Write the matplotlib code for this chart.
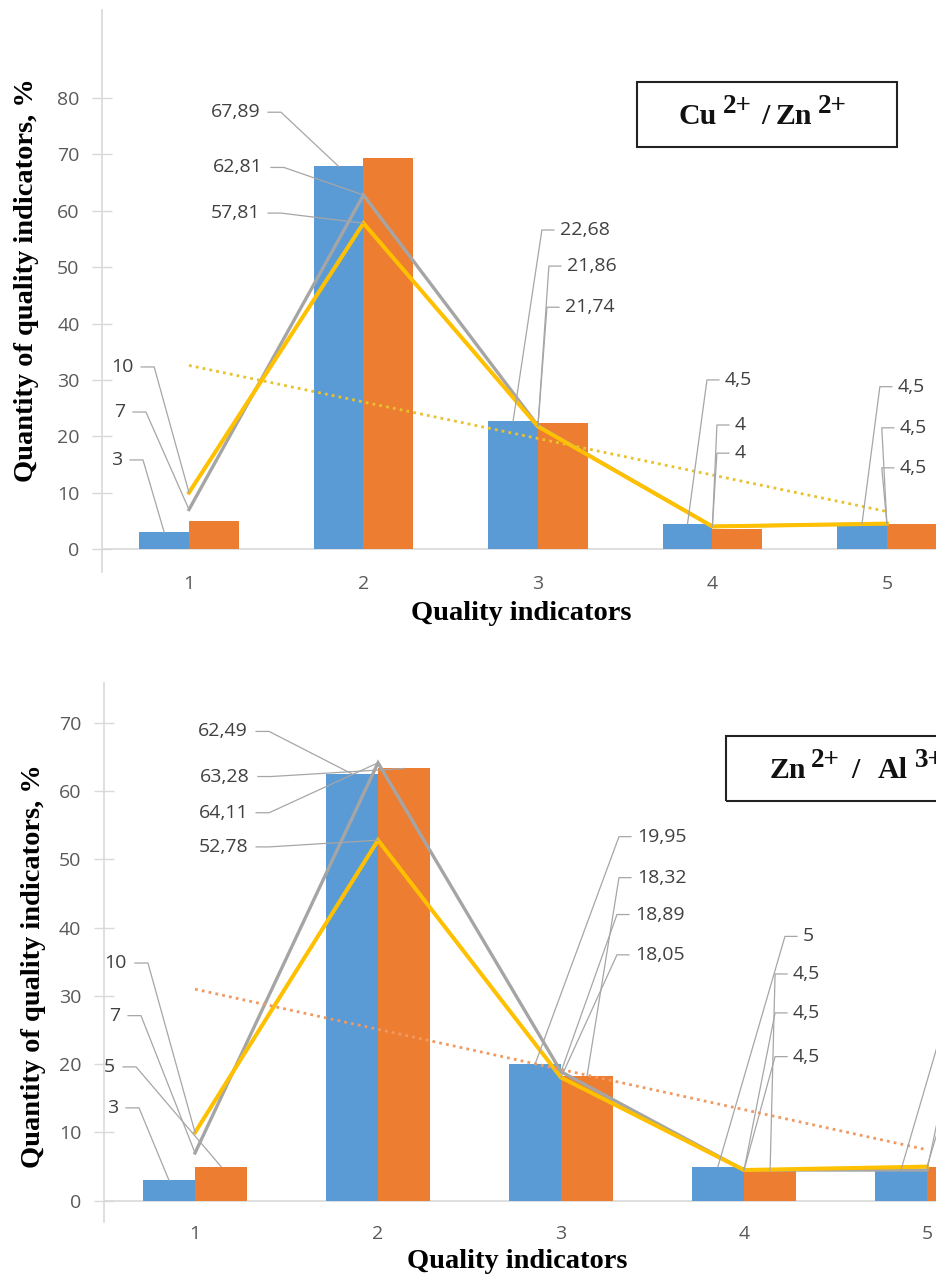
import matplotlib
matplotlib.use("Agg")
import matplotlib.pyplot as plt
from matplotlib.patches import Rectangle
import numpy as np

plt.rcParams["font.family"] = ["Open Sans", "DejaVu Sans"]

# quality indicator categories
categories = [1, 2, 3, 4, 5]

# Cu2+ / Zn2+ panel
cu_blue = [3, 67.89, 22.68, 4.5, 4.5]
cu_orange = [5, 69.3, 22.3, 3.5, 4.5]
cu_gray = [7, 62.81, 21.86, 4, 4.5]
cu_yellow = [10, 57.81, 21.74, 4, 4.5]

# Zn2+ / Al3+ panel
zn_blue = [3, 62.49, 19.95, 5, 4.5]
zn_orange = [5, 63.28, 18.32, 4.5, 5]
zn_gray = [7, 64.11, 18.89, 4.5, 4.5]
zn_yellow = [10, 52.78, 18.05, 4.5, 5]

BLUE, ORANGE, GRAY, YELLOW = "#5B9BD5", "#ED7D31", "#A5A5A5", "#FFC000"
TXT = "#595959"
LEAD = "#A6A6A6"
BAR_W = 0.285
W, H = 937, 1277

# label layout: (series, category index, text x, text y, side)
cu_label_pos = [
    ("yellow", 0, 0.68, 32.3, "L"), ("gray", 0, 0.633, 24.3, "L"), ("blue", 0, 0.616, 15.8, "L"),
    ("blue", 1, 1.407, 77.5, "L"), ("gray", 1, 1.424, 67.7, "L"), ("yellow", 1, 1.407, 59.6, "L"),
    ("blue", 2, 3.126, 56.6, "R"), ("gray", 2, 3.166, 50.2, "R"), ("yellow", 2, 3.155, 42.9, "R"),
    ("blue", 3, 4.072, 30.0, "R"), ("gray", 3, 4.129, 22.0, "R"), ("yellow", 3, 4.129, 17.0, "R"),
    ("blue", 4, 5.063, 28.8, "R"), ("gray", 4, 5.074, 21.5, "R"), ("yellow", 4, 5.074, 14.4, "R"),
]
zn_label_pos = [
    ("yellow", 0, 0.628, 34.8, "L"), ("gray", 0, 0.59, 27.1, "L"),
    ("orange", 0, 0.563, 19.6, "L"), ("blue", 0, 0.579, 13.6, "L"),
    ("blue", 1, 1.29, 68.7, "L"), ("orange", 1, 1.30, 62.1, "L"),
    ("gray", 1, 1.29, 56.8, "L"), ("yellow", 1, 1.29, 51.8, "L"),
    ("blue", 2, 3.415, 53.3, "R"), ("orange", 2, 3.415, 47.3, "R"),
    ("gray", 2, 3.404, 41.9, "R"), ("yellow", 2, 3.404, 36.0, "R"),
    ("blue", 3, 4.322, 38.7, "R"), ("orange", 3, 4.268, 33.2, "R"),
    ("gray", 3, 4.268, 27.5, "R"), ("yellow", 3, 4.268, 21.1, "R"),
    ("blue", 4, 5.33, 38.7, "R"), ("orange", 4, 5.28, 33.2, "R"),
    ("gray", 4, 5.28, 27.5, "R"), ("yellow", 4, 5.28, 21.1, "R"),
]


def fmt(v):
    return f"{v:g}".replace(".", ",")


def shift(ax, x, y, dx):
    X, Y = ax.transData.transform((x, y))
    return ax.transData.inverted().transform((X + dx, Y))[0]


def draw_panel(ax, blue, orange, gray, yellow, trend_src, trend_color,
               ylim, yticks, label_pos):
    x = np.array(categories, dtype=float)
    ax.bar(x - BAR_W / 2, blue, BAR_W, color=BLUE, zorder=2)
    ax.bar(x + BAR_W / 2, orange, BAR_W, color=ORANGE, zorder=2)
    ax.plot(x, gray, color=GRAY, lw=2.4, zorder=3, solid_joinstyle="miter")
    ax.plot(x, yellow, color=YELLOW, lw=2.9, zorder=4, solid_joinstyle="miter")

    # linear trend line
    k, b = np.polyfit(x, trend_src, 1)
    ax.plot(x, k * x + b, color=trend_color, lw=2.0, ls=(0, (1, 1.5)), zorder=5)

    ax.set_xlim(0.5, 5.5)
    ax.set_ylim(*ylim)
    ax.axhline(0, color="#D9D9D9", lw=1.2, zorder=1)
    for s in ["top", "right", "bottom"]:
        ax.spines[s].set_visible(False)
    ax.spines["left"].set_color("#D9D9D9")
    ax.spines["left"].set_linewidth(1.2)
    ax.set_xticks(categories)
    ax.set_yticks(yticks)
    ax.tick_params(axis="x", length=0, pad=2, labelsize=14, labelcolor=TXT)
    ax.tick_params(axis="y", direction="inout", length=14, width=1,
                   color="#D9D9D9", pad=9, labelsize=14, labelcolor=TXT)

    series = {"blue": (blue, -BAR_W / 2), "orange": (orange, BAR_W / 2),
              "gray": (gray, 0), "yellow": (yellow, 0)}
    for name, i, tx, ty, side in label_pos:
        vals, off = series[name]
        px, py = categories[i] + off, vals[i]
        if side == "L":
            s, e = shift(ax, tx, ty, 8), shift(ax, tx, ty, 21)
            ha = "right"
        else:
            s, e = shift(ax, tx, ty, -6), shift(ax, tx, ty, -18)
            ha = "left"
        ax.plot([s, e, px], [ty, ty, py], color=LEAD, lw=0.9, zorder=6,
                clip_on=False)
        # labels that fall past the right edge of the picture are cropped away
        if ax.transData.transform((tx, ty))[0] < W - 5:
            ax.text(tx, ty, fmt(vals[i]), ha=ha, va="center", fontsize=14,
                    color="#404040", zorder=7)


def ion_label(fig, x0, base, parts):
    renderer = fig.canvas.get_renderer()
    x = x0
    for txt, size, rise, gap in parts:
        t = fig.text(x / W, 1 - (base - rise) / H, txt, fontsize=size,
                     fontfamily="Liberation Serif", fontweight="bold",
                     ha="left", va="baseline", color="#111111")
        x += t.get_window_extent(renderer).width + gap


fig = plt.figure(figsize=(W / 100, H / 100), dpi=100)
ax1 = fig.add_axes([0.1086, 0.552, 0.931, 0.440])
ax2 = fig.add_axes([0.1105, 0.0431, 0.9765, 0.4221])

draw_panel(ax1, cu_blue, cu_orange, cu_gray, cu_yellow, cu_yellow, "#E8C22A",
           (-4.1, 95.6), range(0, 90, 10), cu_label_pos)
draw_panel(ax2, zn_blue, zn_orange, zn_gray, zn_yellow, zn_orange, "#F09A62",
           (-3.1, 75.8), range(0, 80, 10), zn_label_pos)

lab = dict(fontfamily="Liberation Serif", fontweight="bold", fontsize=20.5,
           color="black")
fig.text(0.028, 1 - 280 / H, "Quantity of quality indicators, %",
         rotation=90, ha="center", va="center", **lab)
fig.text(0.036, 1 - 966 / H, "Quantity of quality indicators, %",
         rotation=90, ha="center", va="center", **lab)
fig.text(521 / W, 1 - 613 / H, "Quality indicators", ha="center",
         va="center", **lab)
fig.text(517 / W, 1 - 1262 / H, "Quality indicators", ha="center",
         va="center", **lab)

# ion pair boxes
fig.patches.append(Rectangle((637 / W, 1 - 147 / H), 260 / W, 65 / H,
                             transform=fig.transFigure, fill=False,
                             edgecolor="#222222", lw=1.5))
ion_label(fig, 678, 124, [("Cu", 21.5, 0, 7), ("2+", 19.5, 11, 9), ("/", 21.5, 0, 6),
                          ("Zn", 21.5, 0, 6), ("2+", 19.5, 11, 0)])
fig.patches.append(Rectangle((726 / W, 1 - 801 / H), 300 / W, 65 / H,
                             transform=fig.transFigure, fill=False,
                             edgecolor="#222222", lw=1.5))
ion_label(fig, 770, 778, [("Zn", 21.5, 0, 4), ("2+", 19.5, 11, 12), ("/", 21.5, 0, 18),
                          ("Al", 21.5, 0, 7), ("3+", 19.5, 11, 0)])

fig.savefig("out.png", dpi=100)
